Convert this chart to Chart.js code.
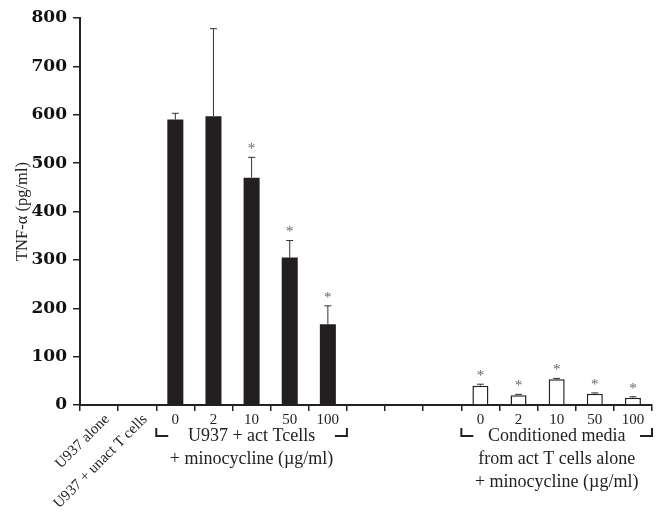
<!DOCTYPE html>
<html>
<head>
<meta charset="utf-8">
<script src="https://cdn.jsdelivr.net/npm/chart.js@4/dist/chart.umd.min.js"></script>
<style>
  html, body { margin: 0; padding: 0; background: #fff; }
</style>
</head>
<body>
<canvas id="tnfChart" width="662" height="514"></canvas>
<script>
// kategorier på x-axeln (15 positioner, tre tomma i mitten)
const categories = ['U937 alone', 'U937 + unact T cells', '0', '2', '10', '50', '100', '', '', '', '0', '2', '10', '50', '100'];
const rotatedLabels = ['U937 alone', 'U937 + unact T cells'];

// U937 + aktiverade T-celler + minocyklin (svarta staplar)
const actValues = [null, null, 590, 597, 470, 305, 167, null, null, null, null, null, null, null, null];
const actErrTop = [null, null, 603, 778, 512, 340, 205, null, null, null, null, null, null, null, null];

// konditionerat medium (vita staplar)
const condValues = [null, null, null, null, null, null, null, null, null, null, 40, 20, 53, 23, 15];
const condErrTop = [null, null, null, null, null, null, null, null, null, null, 43, 22, 55, 25, 17];

// signifikans-stjärnor
const starred = [false, false, false, false, true, true, true, false, false, false, true, true, true, true, true];

const yTicks = [0, 100, 200, 300, 400, 500, 600, 700, 800];

const groups = [
    { from: 2, to: 6, lines: ['U937 + act Tcells', '+ minocycline (\u00b5g/ml)'] },
    { from: 10, to: 14, lines: ['Conditioned media', 'from act T cells alone', '+ minocycline (\u00b5g/ml)'] }
];

const serif = '"Liberation Serif", "Times New Roman", serif';

// ritar felstaplar, stjärnor, roterade etiketter och grupp-klamrar
const extrasPlugin = {
    id: 'extras',
    afterDatasetsDraw(chart) {
        const ctx = chart.ctx;
        const x = chart.scales.x;
        const y = chart.scales.y;
        ctx.save();
        ctx.strokeStyle = '#333';
        ctx.lineWidth = 1;
        const tops = actErrTop.map((v, i) => v !== null ? v : condErrTop[i]);
        const vals = actValues.map((v, i) => v !== null ? v : condValues[i]);
        tops.forEach((top, i) => {
            if (top === null) return;
            const cx = x.getPixelForValue(i);
            const yb = y.getPixelForValue(vals[i]);
            const yt = y.getPixelForValue(top);
            ctx.beginPath();
            ctx.moveTo(cx, yb);
            ctx.lineTo(cx, yt);
            ctx.moveTo(cx - 3.5, yt);
            ctx.lineTo(cx + 3.5, yt);
            ctx.stroke();
            if (starred[i]) {
                ctx.fillStyle = '#666';
                ctx.font = '15px ' + serif;
                ctx.textAlign = 'center';
                ctx.textBaseline = 'middle';
                ctx.fillText('*', cx, yt - 8);
            }
        });
        ctx.restore();
    },
    afterDraw(chart) {
        const ctx = chart.ctx;
        const x = chart.scales.x;
        const base = chart.scales.y.getPixelForValue(0);
        ctx.save();
        ctx.fillStyle = '#222';
        ctx.font = '15px ' + serif;

        // roterade etiketter
        rotatedLabels.forEach((label, i) => {
            const cx = x.getPixelForValue(i);
            ctx.save();
            ctx.translate(cx + 8, base + 12);
            ctx.rotate(-Math.PI / 4);
            ctx.textAlign = 'right';
            ctx.textBaseline = 'middle';
            ctx.fillText(label, 0, 0);
            ctx.restore();
        });

        // klamrar och grupptext
        const half = (x.getPixelForValue(1) - x.getPixelForValue(0)) / 2;
        ctx.strokeStyle = '#222';
        ctx.lineWidth = 2;
        ctx.font = '18px ' + serif;
        ctx.textAlign = 'center';
        ctx.textBaseline = 'middle';
        groups.forEach(g => {
            const left = x.getPixelForValue(g.from) - half;
            const right = x.getPixelForValue(g.to) + half;
            const yb = base + 31;
            ctx.beginPath();
            ctx.moveTo(left, yb - 8);
            ctx.lineTo(left, yb);
            ctx.lineTo(left + 12, yb);
            ctx.moveTo(right - 12, yb);
            ctx.lineTo(right, yb);
            ctx.lineTo(right, yb - 8);
            ctx.stroke();
            const mid = (left + right) / 2;
            g.lines.forEach((line, k) => {
                ctx.fillText(line, mid, base + 31 + k * 23);
            });
        });
        ctx.restore();
    }
};

new Chart(document.getElementById('tnfChart').getContext('2d'), {
    type: 'bar',
    data: {
        labels: categories,
        datasets: [{
            data: actValues,
            backgroundColor: '#231f20',
            borderColor: '#231f20',
            borderWidth: 0
        }, {
            data: condValues,
            backgroundColor: '#ffffff',
            borderColor: '#222',
            borderWidth: 1.5
        }]
    },
    options: {
        responsive: false,
        animation: false,
        datasets: {
            bar: {
                grouped: false,
                categoryPercentage: 1,
                barPercentage: 0.42
            }
        },
        layout: {
            padding: { left: 0, right: 10, top: 18, bottom: 0 }
        },
        plugins: {
            legend: { display: false },
            tooltip: { enabled: false }
        },
        scales: {
            x: {
                grid: {
                    display: true,
                    drawOnChartArea: false,
                    drawTicks: true,
                    tickLength: 6,
                    color: '#222',
                    lineWidth: 1.5
                },
                border: { display: true, color: '#222', width: 2 },
                ticks: {
                    maxRotation: 0,
                    autoSkip: false,
                    padding: 0,
                    color: '#222',
                    font: { family: serif, size: 15 },
                    callback: function(value, index) {
                        return index < 2 ? '' : categories[index];
                    }
                },
                afterFit: function(scale) {
                    scale.height = 109;
                }
            },
            y: {
                min: 0,
                max: 800,
                afterBuildTicks: function(scale) {
                    scale.ticks = yTicks.map(v => ({ value: v }));
                },
                grid: {
                    display: true,
                    drawOnChartArea: false,
                    drawTicks: true,
                    tickLength: 7,
                    color: '#222',
                    lineWidth: 1.5
                },
                border: { display: true, color: '#222', width: 2 },
                ticks: {
                    padding: 6,
                    color: '#111',
                    font: { family: '"DejaVu Serif", serif', size: 17, weight: 'bold' }
                },
                title: {
                    display: true,
                    text: 'TNF-\u03b1 (pg/ml)',
                    color: '#222',
                    font: { family: serif, size: 16.5 },
                    padding: { top: 13, bottom: 0 }
                },
                afterFit: function(scale) {
                    scale.width = 80;
                }
            }
        }
    },
    plugins: [extrasPlugin]
});
</script>
</body>
</html>
